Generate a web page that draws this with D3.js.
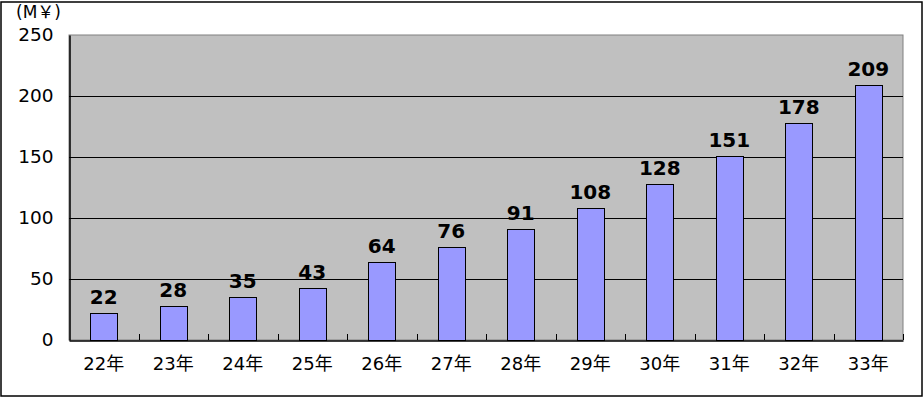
<!DOCTYPE html>
<html>
<head>
<meta charset="utf-8">
<script src="https://cdn.jsdelivr.net/npm/d3@7.9.0/dist/d3.min.js"></script>
<style>
  body { margin: 0; background: #fff; }
  svg text { font-family: "DejaVu Sans", Verdana, "Noto Sans CJK JP", sans-serif; }
</style>
</head>
<body>
<svg id="chart" width="924" height="399"></svg>
<script>
// years and sales (M yen)
const years = ['22年', '23年', '24年', '25年', '26年', '27年', '28年', '29年', '30年', '31年', '32年', '33年'];
const sales = [22, 28, 35, 43, 64, 76, 91, 108, 128, 151, 178, 209];
const yTicks = [0, 50, 100, 150, 200, 250];

const svg = d3.select('#chart');
const margin = { left: 69, top: 35, right: 21, bottom: 59 };
const w = 924, h = 399;

// outer frame
svg.append('rect')
    .attr('x', 1).attr('y', 2)
    .attr('width', 921).attr('height', 394)
    .attr('fill', '#fff')
    .attr('stroke', '#000')
    .attr('stroke-width', 1.5);

let x = d3.scaleBand()
    .domain(years)
    .range([margin.left, w - margin.right]);

let y = d3.scaleLinear()
    .domain([0, 250])
    .range([h - margin.bottom, margin.top]);

// plot background
svg.append('rect')
    .attr('x', margin.left).attr('y', margin.top)
    .attr('width', w - margin.left - margin.right)
    .attr('height', h - margin.top - margin.bottom)
    .attr('fill', '#c0c0c0')
    .attr('stroke', '#808080');

// gridlines
svg.append('g')
    .selectAll('line')
    .data(yTicks.filter(d => d > 0 && d < 250))
    .join('line')
    .attr('x1', margin.left).attr('x2', w - margin.right)
    .attr('y1', d => Math.round(y(d)) + 0.5).attr('y2', d => Math.round(y(d)) + 0.5)
    .attr('stroke', '#000');

// bars
let barW = 27;
svg.append('g')
    .selectAll('rect')
    .data(sales)
    .join('rect')
    .attr('x', (d, i) => Math.round(x(years[i]) + x.bandwidth() / 2 - barW / 2) + 0.5)
    .attr('y', d => Math.round(y(d)) + 0.5)
    .attr('width', barW)
    .attr('height', d => Math.round(y(0)) - Math.round(y(d)))
    .attr('fill', '#9999ff')
    .attr('stroke', '#000');

// value labels
svg.append('g')
    .selectAll('text')
    .data(sales)
    .join('text')
    .attr('x', (d, i) => x(years[i]) + x.bandwidth() / 2)
    .attr('y', d => y(d) - 9)
    .attr('text-anchor', 'middle')
    .attr('font-size', 20)
    .attr('font-weight', 'bold')
    .attr('fill', '#000')
    .text(d => d);

// x axis
let xAxis = d3.axisBottom(x).tickSize(0).tickPadding(17);
let gx = svg.append('g')
    .attr('transform', `translate(0,${Math.round(y(0)) + 0.5})`)
    .call(xAxis);
gx.select('.domain').attr('stroke', '#000').attr('stroke-width', 1.5);
gx.selectAll('text')
    .attr('font-size', 18)
    .attr('fill', '#000')
    .style('font-family', '"DejaVu Sans", "Noto Sans CJK JP", sans-serif');

// inward ticks at category boundaries
svg.append('g')
    .selectAll('line')
    .data(years.slice(1).concat(['end']))
    .join('line')
    .attr('x1', d => Math.round(d === 'end' ? x.range()[1] : x(d)) + 0.5)
    .attr('x2', d => Math.round(d === 'end' ? x.range()[1] : x(d)) + 0.5)
    .attr('y1', y(0))
    .attr('y2', y(0) - 6)
    .attr('stroke', '#000');

// y axis
let yAxis = d3.axisLeft(y).tickValues(yTicks).tickSize(0).tickPadding(16);
let gy = svg.append('g')
    .attr('transform', `translate(${margin.left + 0.5},0)`)
    .call(yAxis);
gy.select('.domain').attr('stroke', '#000').attr('stroke-width', 1.5);
gy.selectAll('text')
    .attr('font-size', 18.5)
    .attr('fill', '#000');

// unit label
svg.append('text')
    .attr('x', 16).attr('y', 18)
    .attr('font-size', 17)
    .attr('fill', '#000')
    .style('font-family', '"DejaVu Sans", "Noto Sans CJK JP", sans-serif')
    .text('(M￥)');
</script>
</body>
</html>
